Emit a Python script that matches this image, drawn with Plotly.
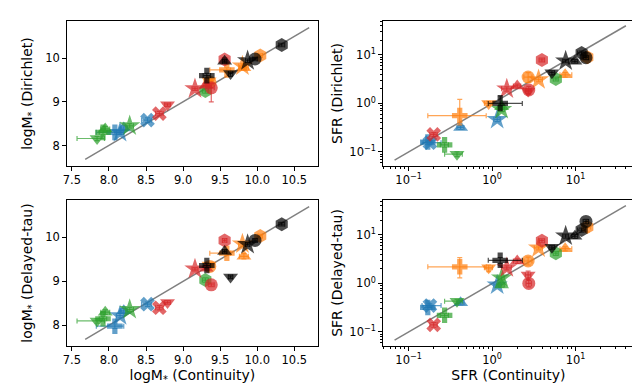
import plotly.graph_objects as go
from plotly.subplots import make_subplots

TAB = {"blue": "#1f77b4", "orange": "#ff7f0e", "green": "#2ca02c",
       "red": "#d62728", "black": "#000000"}

# one entry per galaxy, same colour/marker in every panel
gal_color = ["black", "black", "black", "black", "black", "black",
             "orange", "orange", "orange", "orange", "orange", "orange",
             "green", "green", "green", "green", "green",
             "blue", "blue", "blue", "blue",
             "red", "red", "red", "red", "red", "red"]
gal_symbol = ["hexagon", "star", "triangle-up", "triangle-down", "cross", "circle",
              "hexagon", "star", "triangle-up", "triangle-down", "cross", "circle",
              "hexagon", "star", "triangle-up", "triangle-down", "cross",
              "x", "star", "triangle-up", "cross",
              "hexagon", "star", "triangle-up", "triangle-down", "circle", "x"]

# stellar mass (log)
mass_cont = [10.33, 9.87, 9.56, 9.64, 9.32, 9.97,
             10.04, 9.80, 9.82, 9.35, 9.59, 9.36,
             9.30, 8.28, 7.95, 7.84, 7.92,
             8.52, 8.15, 8.20, 8.08,
             9.56, 9.16, 9.31, 8.79, 9.38, 8.68]
mass_dir = [10.30, 9.94, 9.93, 9.65, 9.60, 9.98,
            10.06, 9.82, 9.78, 9.48, 9.73, 9.45,
            9.25, 8.45, 8.38, 8.16, 8.30,
            8.58, 8.30, 8.40, 8.30,
            9.97, 9.30, 9.38, 8.93, 9.32, 8.73]
mass_dt = [10.30, 9.84, 9.68, 9.10, 9.36, 9.93,
           10.03, 9.85, 9.57, 9.37, 9.64, 9.34,
           9.03, 8.36, 8.30, 8.10, 8.15,
           8.48, 8.22, 8.33, 7.98,
           9.93, 9.28, 9.30, 8.52, 8.92, 8.40]

# star formation rate
sfr_cont = [11.8, 7.6, 9.8, 5.2, 1.25, 13.3,
            13.8, 3.6, 7.5, 0.91, 0.41, 2.7,
            5.8, 1.3, 1.3, 0.38, 0.27,
            0.18, 1.15, 0.42, 0.17,
            3.95, 1.5, 2.0, 2.7, 2.75, 0.2]
sfr_dir = [11.0, 7.5, 7.4, 4.3, 1.0, 8.8,
           9.0, 3.1, 3.9, 1.0, 0.56, 3.5,
           3.2, 0.75, 0.85, 0.09, 0.14,
           0.155, 0.47, 0.32, 0.16,
           7.9, 2.0, 2.3, 1.8, 1.9, 0.23]
sfr_dt = [12.6, 9.5, 9.4, 5.6, 3.0, 19.0,
          14.5, 5.4, 5.2, 2.1, 2.2, 2.9,
          4.2, 1.3, 0.93, 0.43, 0.22,
          0.35, 0.93, 0.40, 0.32,
          7.6, 2.1, 2.9, 1.5, 1.0, 0.14]

# uncertainties (lower, upper)
mass_cont_lo = [0.04, 0.03, 0.03, 0.03, 0.05, 0.03, 0.03, 0.05, 0.06, 0.04, 0.23, 0.04, 0.04, 0.05,
                0.06, 0.27, 0.05, 0.08, 0.05, 0.05, 0.25, 0.03, 0.04, 0.04, 0.04, 0.04, 0.05]
mass_cont_hi = [0.04, 0.03, 0.03, 0.03, 0.05, 0.03, 0.03, 0.05, 0.06, 0.04, 0.05, 0.04, 0.04, 0.05,
                0.06, 0.10, 0.05, 0.05, 0.05, 0.05, 0.12, 0.03, 0.04, 0.04, 0.04, 0.04, 0.05]
mass_dir_lo = [0.04, 0.04, 0.04, 0.07, 0.05, 0.04, 0.04, 0.05, 0.05, 0.04, 0.05, 0.04, 0.05, 0.05,
               0.05, 0.05, 0.05, 0.05, 0.05, 0.05, 0.05, 0.04, 0.04, 0.04, 0.04, 0.32, 0.05]
mass_dir_hi = [0.04, 0.04, 0.04, 0.03, 0.05, 0.04, 0.04, 0.05, 0.05, 0.04, 0.05, 0.04, 0.05, 0.05,
               0.05, 0.05, 0.05, 0.05, 0.05, 0.05, 0.05, 0.04, 0.04, 0.04, 0.04, 0.10, 0.05]
mass_dt_lo = [0.04, 0.04, 0.04, 0.04, 0.05, 0.04, 0.04, 0.05, 0.06, 0.04, 0.05, 0.04, 0.05, 0.05,
              0.05, 0.05, 0.05, 0.05, 0.05, 0.05, 0.05, 0.04, 0.04, 0.04, 0.04, 0.04, 0.05]
mass_dt_hi = mass_dt_lo
sfr_cont_lo = [1.2, 0.6, 0.8, 0.4, 0.35, 1.0, 1.2, 0.4, 1.0, 0.1, 0.24, 0.3, 0.4, 0.1,
               0.1, 0.11, 0.03, 0.035, 0.1, 0.04, 0.02, 0.3, 0.2, 0.2, 0.2, 0.2, 0.02]
sfr_cont_hi = [1.2, 0.6, 0.8, 0.4, 1.05, 1.0, 1.2, 0.4, 1.5, 0.1, 0.44, 0.3, 0.4, 0.1,
               0.1, 0.06, 0.03, 0.065, 0.1, 0.04, 0.02, 0.3, 0.2, 0.2, 0.2, 0.2, 0.02]
sfr_dir_lo = [1.0, 0.6, 0.6, 0.4, 0.1, 0.8, 0.8, 0.3, 0.4, 0.1, 0.2, 0.8, 0.3, 0.07,
              0.08, 0.01, 0.015, 0.015, 0.05, 0.03, 0.015, 0.7, 0.2, 0.2, 0.2, 0.35, 0.02]
sfr_dir_hi = [1.0, 0.6, 0.6, 0.4, 0.45, 0.8, 0.8, 0.3, 0.4, 0.1, 0.65, 0.8, 0.3, 0.07,
              0.08, 0.01, 0.015, 0.015, 0.05, 0.03, 0.015, 0.7, 0.2, 0.2, 0.2, 0.35, 0.02]
sfr_dt_lo = [1.2, 0.9, 0.9, 0.5, 0.4, 2.0, 3.0, 0.5, 0.5, 0.36, 0.9, 0.5, 0.4, 0.12,
             0.09, 0.04, 0.02, 0.03, 0.09, 0.04, 0.03, 0.7, 0.2, 0.3, 0.3, 0.15, 0.015]
sfr_dt_hi = [1.2, 0.9, 0.9, 0.5, 0.4, 2.0, 3.0, 0.5, 0.5, 0.30, 1.2, 0.6, 0.4, 0.12,
             0.09, 0.04, 0.02, 0.03, 0.09, 0.04, 0.03, 0.7, 0.2, 0.3, 0.3, 0.15, 0.015]

# 1:1 lines
mass_line = [7.68, 10.70]
sfr_line = [0.068, 40.0]

FONT = "DejaVu Sans"
SIZES = {"star": 16, "triangle-up": 13, "triangle-down": 13, "hexagon": 14,
         "cross": 13, "x": 13, "circle": 13}

fig = make_subplots(rows=2, cols=2)

panels = [
    (1, 1, mass_cont, mass_dir, mass_cont_lo, mass_cont_hi, mass_dir_lo, mass_dir_hi, mass_line),
    (1, 2, sfr_cont, sfr_dir, sfr_cont_lo, sfr_cont_hi, sfr_dir_lo, sfr_dir_hi, sfr_line),
    (2, 1, mass_cont, mass_dt, mass_cont_lo, mass_cont_hi, mass_dt_lo, mass_dt_hi, mass_line),
    (2, 2, sfr_cont, sfr_dt, sfr_cont_lo, sfr_cont_hi, sfr_dt_lo, sfr_dt_hi, sfr_line),
]

for row, col, xs, ys, xlo, xhi, ylo, yhi, line in panels:
    fig.add_trace(go.Scatter(x=line, y=line, mode="lines",
                             line=dict(color="#808080", width=1.5),
                             showlegend=False, hoverinfo="skip"), row=row, col=col)
    for cname, chex in TAB.items():
        idx = [i for i, c in enumerate(gal_color) if c == cname]
        rgba = "rgba(%d,%d,%d,0.7)" % tuple(int(chex[k:k + 2], 16) for k in (1, 3, 5))
        fig.add_trace(go.Scatter(
            x=[xs[i] for i in idx], y=[ys[i] for i in idx], mode="markers",
            marker=dict(color=chex, opacity=0.7,
                        size=[SIZES[gal_symbol[i]] for i in idx],
                        symbol=[gal_symbol[i] for i in idx], line=dict(width=0)),
            error_x=dict(type="data", symmetric=False,
                         array=[xhi[i] for i in idx], arrayminus=[xlo[i] for i in idx],
                         color=rgba, thickness=1.2, width=2.5),
            error_y=dict(type="data", symmetric=False,
                         array=[yhi[i] for i in idx], arrayminus=[ylo[i] for i in idx],
                         color=rgba, thickness=1.2, width=2.5),
            showlegend=False), row=row, col=col)

x_left = [55 / 640, 308 / 640]
x_right = [373 / 640, 626 / 640]
y_top = [1 - 158 / 391, 1 - 13 / 391]
y_bot = [1 - 338 / 391, 1 - 192 / 391]

axis_common = dict(showline=True, linecolor="black", linewidth=1, mirror=True,
                   ticks="outside", ticklen=3.5, tickwidth=1, tickcolor="black",
                   showgrid=False, zeroline=False,
                   tickfont=dict(family=FONT, size=11.5, color="black"),
                   title_font=dict(family=FONT, size=14, color="black"))

minor_vals = [0.02, 0.03, 0.04, 0.05, 0.06, 0.07, 0.08, 0.09,
              0.2, 0.3, 0.4, 0.5, 0.6, 0.7, 0.8, 0.9,
              2, 3, 4, 5, 6, 7, 8, 9, 20, 30, 40, 50]
log_ticks = dict(type="log", tickmode="array", tickvals=[0.1, 1, 10],
                 ticktext=["10<sup>\u22121</sup>", "10<sup>0</sup>", "10<sup>1</sup>"],
                 minor=dict(ticks="outside", ticklen=2, tickwidth=0.8, tickcolor="black",
                            tickmode="array", tickvals=minor_vals))
mass_xticks = dict(tickmode="array", tickvals=[7.5, 8.0, 8.5, 9.0, 9.5, 10.0, 10.5],
                   ticktext=["7.5", "8.0", "8.5", "9.0", "9.5", "10.0", "10.5"])
mass_yticks = dict(tickmode="array", tickvals=[8, 9, 10], ticktext=["8", "9", "10"])

fig.update_xaxes(**axis_common)
fig.update_yaxes(**axis_common)

fig.update_xaxes(domain=x_left, range=[7.43, 10.82], **mass_xticks, row=1, col=1)
fig.update_yaxes(domain=y_top, range=[7.53, 10.85], **mass_yticks,
                 title_text="logM<sub>*</sub> (Dirichlet)", title_standoff=9, row=1, col=1)
fig.update_xaxes(domain=x_right, range=[-1.31, 1.70], **log_ticks, row=1, col=2)
fig.update_yaxes(domain=y_top, range=[-1.29, 1.70], **log_ticks,
                 title_text="SFR (Dirichlet)", title_standoff=3, row=1, col=2)
fig.update_xaxes(domain=x_left, range=[7.43, 10.82], **mass_xticks,
                 title_text="logM<sub>*</sub> (Continuity)", title_standoff=2, row=2, col=1)
fig.update_yaxes(domain=y_bot, range=[7.53, 10.85], **mass_yticks,
                 title_text="logM<sub>*</sub> (Delayed-tau)", title_standoff=9, row=2, col=1)
fig.update_xaxes(domain=x_right, range=[-1.31, 1.70], **log_ticks,
                 title_text="SFR (Continuity)", title_standoff=2, row=2, col=2)
fig.update_yaxes(domain=y_bot, range=[-1.29, 1.72], **log_ticks,
                 title_text="SFR (Delayed-tau)", title_standoff=3, row=2, col=2)

fig.update_layout(width=640, height=391, margin=dict(l=0, r=0, t=0, b=0),
                  paper_bgcolor="white", plot_bgcolor="white",
                  font=dict(family=FONT, color="black"))

fig.write_html("out.html")
